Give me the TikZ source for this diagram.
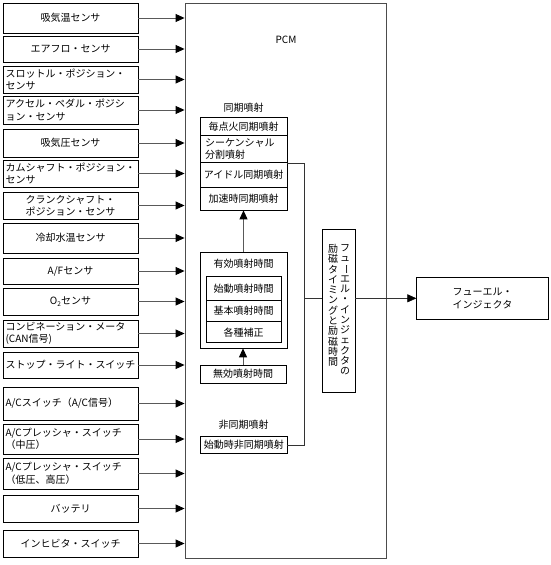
\documentclass[tikz,border=0pt]{standalone}
\usepackage{fontspec}
\setmainfont{Noto Sans CJK JP}
\usetikzlibrary{arrows.meta}
\begin{document}
\begin{tikzpicture}[x=1pt,y=-1pt,
  every node/.style={font=\fontsize{10}{12.5}\selectfont},
  lbox/.style={draw=black,line width=0.8pt,minimum width=135pt,inner sep=0pt,text width=130pt},
  lboxl/.style={lbox,align=left},
  lboxc/.style={lbox,align=center},
  ibox/.style={draw=black,line width=0.7pt,inner sep=0pt,align=center},
  conn/.style={draw=black!65,line width=0.9pt},
  arr/.style={conn,-{Triangle[length=9pt,width=8pt,color=black]}},
  thin/.style={draw=black!80,line width=0.6pt}]
\useasboundingbox (0,0) rectangle (551,565);
% PCM
\node[draw=black!70,line width=0.9pt,minimum width=201pt,minimum height=555pt,inner sep=0pt] (pcm) at (285.5,280.5) {};
\node (pcmlbl) at (286,40) {PCM};
% left sensors
\node[lboxc,minimum height=30pt] (s1) at (70.5,18) {吸気温センサ};
\node[lboxc,minimum height=26pt] (s2) at (70.5,49) {エアフロ・センサ};
\node[lboxl,minimum height=27pt] (s3) at (70.5,79.5) {スロットル・ポジション・\\センサ};
\node[lboxl,minimum height=28pt] (s4) at (70.5,110) {アクセル・ペダル・ポジシ\\ョン・センサ};
\node[lboxc,minimum height=28pt] (s5) at (70.5,143) {吸気圧センサ};
\node[lboxl,minimum height=27pt] (s6) at (70.5,173.5) {カムシャフト・ポジション・\\センサ};
\node[lboxc,minimum height=27pt] (s7) at (70.5,205.5) {クランクシャフト・\\ポジション・センサ};
\node[lboxc,minimum height=30pt] (s8) at (70.5,238) {冷却水温センサ};
\node[lboxc,minimum height=26pt] (s9) at (70.5,271) {A/Fセンサ};
\node[lboxc,minimum height=27pt] (s10) at (70.5,301.5) {O\raisebox{-0.25ex}{\fontsize{6.5}{7}\selectfont 2}センサ};
\node[lboxl,minimum height=27pt] (s11) at (70.5,333.5) {コンビネーション・メータ\\(CAN信号)};
\node[lboxl,minimum height=26pt] (s12) at (70.5,365) {ストップ・ライト・スイッチ};
\node[lboxl,minimum height=33pt] (s13) at (70.5,403.5) {A/Cスイッチ（A/C信号）};
\node[lboxl,minimum height=30pt] (s14) at (70.5,439) {A/Cプレッシャ・スイッチ\\（中圧）};
\node[lboxl,minimum height=31pt] (s15) at (70.5,473.5) {A/Cプレッシャ・スイッチ\\（低圧、高圧）};
\node[lboxc,minimum height=27pt] (s16) at (70.5,508.5) {バッテリ};
\node[lboxc,minimum height=27pt] (s17) at (70.5,543.5) {インヒビタ・スイッチ};
\foreach \i in {1,...,17}{\draw[arr] (s\i.east) -- (s\i.east -| pcm.west);}
% synchronous injection
\node (synlbl) at (243.5,108) {同期噴射};
\node[ibox,minimum width=87pt,minimum height=18.5pt] (r1) at (243.5,126.25) {毎点火同期噴射};
\node[ibox,minimum width=87pt,minimum height=27.2pt,text width=77pt,align=left] (r2) at (243.5,149.1) {シーケンシャル\\分割噴射};
\node[ibox,minimum width=87pt,minimum height=25pt] (r3) at (243.5,175.2) {アイドル同期噴射};
\node[ibox,minimum width=87pt,minimum height=22.3pt] (r4) at (243.5,198.85) {加速時同期噴射};
% effective injection time
\node[ibox,minimum width=87pt,minimum height=96pt] (eff) at (243.5,300) {};
\node (efflbl) at (243.5,264) {有効噴射時間};
\node[ibox,minimum width=75pt,minimum height=24pt] (e1) at (243.5,288.7) {始動噴射時間};
\node[ibox,minimum width=75pt,minimum height=21pt] (e2) at (243.5,311.2) {基本噴射時間};
\node[ibox,minimum width=75pt,minimum height=21pt] (e3) at (243.5,332.2) {各種補正};
\node[ibox,minimum width=86pt,minimum height=18.3pt] (inv) at (243,374.2) {無効噴射時間};
% asynchronous injection
\node (asynlbl) at (243.5,425) {非同期噴射};
\node[ibox,minimum width=86.5pt,minimum height=16.6pt] (async) at (243.8,445) {始動時非同期噴射};
% vertical box
\node[ibox,minimum width=32.3pt,minimum height=163.4pt] (vb) at (338.85,311) {};
\node[anchor=north,inner sep=0pt,align=center,font=\fontsize{10}{10.3}\selectfont] (vt1) at (345,244)
 {フ\\ュ\\\rotatebox[origin=c]{-90}{ー}\\エ\\ル\\・\\イ\\ン\\ジ\\ェ\\ク\\タ\\の};
\node[anchor=north,inner sep=0pt,align=center,font=\fontsize{10}{10.3}\selectfont] (vt2) at (333,244)
 {励\\磁\\タ\\イ\\ミ\\ン\\グ\\と\\励\\磁\\時\\間};
% injector
\node[ibox,minimum width=131.6pt,minimum height=42pt] (inj) at (482.5,298.3) {フューエル・\\インジェクタ};
% connectors
\draw[arr] (eff.north -| r4.south) -- (r4.south);
\draw[arr] (inv.north) -- (inv.north |- eff.south);
\draw[thin] (r2.south east) -- ++(17,0) coordinate (b1) |- (async.east);
\draw[thin] (b1 |- inj.west) -- (vb.west |- inj.west);
\draw[thin,-{Triangle[length=9pt,width=8pt,color=black]}] (vb.east |- inj.west) -- (inj.west);
\end{tikzpicture}
\end{document}
